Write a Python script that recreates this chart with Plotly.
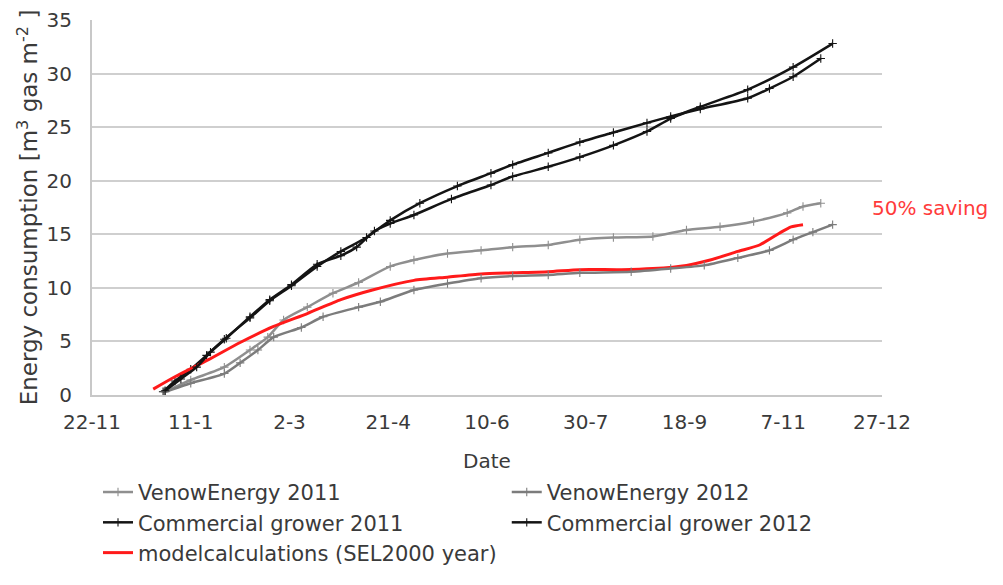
import pandas as pd
import plotly.graph_objects as go

BASE_DATE = "2010-11-22"

# days since 22-11-2010
venow2011_days = [37, 50, 67, 80, 89, 97, 109, 122, 135, 151, 163, 180, 197, 213, 231, 247, 264, 284, 301, 318, 335, 352, 360, 369]
venow2011_vals = [0.3, 1.4, 2.6, 4.2, 5.4, 7.0, 8.2, 9.5, 10.5, 12.0, 12.6, 13.2, 13.5, 13.8, 14.0, 14.5, 14.7, 14.8, 15.4, 15.7, 16.2, 17.0, 17.6, 17.9]

venow2012_days = [37, 50, 67, 75, 84, 92, 106, 117, 135, 146, 163, 180, 197, 213, 231, 247, 273, 293, 310, 327, 343, 355, 365, 375]
venow2012_vals = [0.3, 1.1, 2.0, 3.0, 4.2, 5.4, 6.3, 7.3, 8.2, 8.7, 9.8, 10.4, 10.9, 11.1, 11.2, 11.4, 11.5, 11.8, 12.1, 12.8, 13.5, 14.5, 15.2, 15.9]

comm2011_days = [36, 42, 50, 58, 67, 80, 90, 101, 114, 126, 139, 151, 166, 185, 202, 213, 231, 247, 264, 281, 293, 308, 332, 343, 355, 369]
comm2011_vals = [0.3, 1.3, 2.4, 3.7, 5.2, 7.2, 8.8, 10.2, 12.0, 13.4, 14.7, 16.3, 17.9, 19.5, 20.7, 21.5, 22.6, 23.6, 24.5, 25.4, 26.0, 26.7, 27.7, 28.6, 29.7, 31.4]

comm2012_days = [37, 45, 53, 60, 68, 80, 90, 101, 114, 126, 134, 143, 151, 163, 182, 202, 213, 231, 247, 264, 281, 293, 308, 332, 355, 375]
comm2012_vals = [0.4, 1.5, 2.6, 4.0, 5.3, 7.3, 8.9, 10.3, 12.2, 13.0, 13.8, 15.3, 16.0, 16.8, 18.3, 19.6, 20.4, 21.3, 22.2, 23.3, 24.6, 25.8, 26.9, 28.5, 30.6, 32.8]

model_days = [31, 42, 59, 75, 92, 109, 126, 142, 163, 180, 197, 213, 231, 247, 268, 284, 301, 313, 327, 338, 348, 354, 360]
model_vals = [0.55, 1.7, 3.3, 4.9, 6.4, 7.6, 8.9, 9.8, 10.7, 11.0, 11.3, 11.4, 11.5, 11.7, 11.7, 11.8, 12.1, 12.6, 13.4, 14.0, 15.1, 15.7, 15.9]

tick_dates = ["2010-11-22", "2011-01-11", "2011-03-02", "2011-04-21", "2011-06-10",
              "2011-07-30", "2011-09-18", "2011-11-07", "2011-12-27"]
tick_labels = ["22-11", "11-1", "2-3", "21-4", "10-6", "30-7", "18-9", "7-11", "27-12"]


def to_dates(days):
    return pd.Timestamp(BASE_DATE) + pd.to_timedelta(days, unit="D")


FONT = "DejaVu Sans"
TXT = "#3a3a3a"

fig = go.Figure()


def add_series(name, days, vals, color, legend, width=2.5, markers=True):
    fig.add_trace(go.Scatter(
        x=to_dates(days), y=vals, name=name, legend=legend,
        mode="lines+markers" if markers else "lines",
        line=dict(color=color, width=width, shape="spline", smoothing=0.6),
        marker=dict(symbol="cross-thin", size=6, color=color,
                    line=dict(color=color, width=1.1)),
    ))


add_series("VenowEnergy 2011", venow2011_days, venow2011_vals, "#8f8f8f", "legend")
add_series("Commercial grower 2011", comm2011_days, comm2011_vals, "#141414", "legend")
add_series("modelcalculations (SEL2000 year)", model_days, model_vals, "#ff1a1a", "legend", width=3, markers=False)
add_series("VenowEnergy 2012", venow2012_days, venow2012_vals, "#7c7c7c", "legend2")
add_series("Commercial grower 2012", comm2012_days, comm2012_vals, "#141414", "legend2")

fig.add_annotation(text="50% saving", xref="paper", x=0.985, xanchor="left",
                   yref="y", y=17.5, yanchor="middle", showarrow=False,
                   font=dict(family=FONT, size=20, color="#ff3b3b"))

fig.update_layout(
    width=995, height=577,
    margin=dict(l=84, r=121, t=12, b=190, autoexpand=False),
    paper_bgcolor="white", plot_bgcolor="white",
    font=dict(family=FONT, size=20, color=TXT),
    legend=dict(x=0.0076, xanchor="left", y=-0.205, yanchor="top",
                bgcolor="rgba(0,0,0,0)", font=dict(size=21, color=TXT),
                tracegroupgap=0),
    legend2=dict(x=0.525, xanchor="left", y=-0.205, yanchor="top",
                 bgcolor="rgba(0,0,0,0)", font=dict(size=21, color=TXT),
                 tracegroupgap=0),
    xaxis=dict(
        type="date", range=[tick_dates[0], tick_dates[-1]], automargin=False,
        tickmode="array", tickvals=tick_dates, ticktext=tick_labels,
        showgrid=False, zeroline=False,
        showline=True, linecolor="#c8c8c8", linewidth=2,
        ticks="outside", ticklen=8, tickcolor="rgba(0,0,0,0)",
        tickfont=dict(size=20, color=TXT),
        title=dict(text="Date", standoff=21, font=dict(size=20, color=TXT)),
    ),
    yaxis=dict(
        range=[0, 35], tickvals=[0, 5, 10, 15, 20, 25, 30, 35], automargin=False,
        showgrid=True, gridcolor="#cfcfcf", gridwidth=2,
        zeroline=False, showline=True, linecolor="#c8c8c8", linewidth=2,
        ticks="outside", ticklen=14, tickcolor="rgba(0,0,0,0)",
        tickfont=dict(size=20, color=TXT),
        title=dict(text="Energy consumption [m<sup>3</sup> gas m<sup>-2</sup> ]",
                   standoff=2, font=dict(size=23, color=TXT)),
    ),
)

fig.write_html("out.html")
